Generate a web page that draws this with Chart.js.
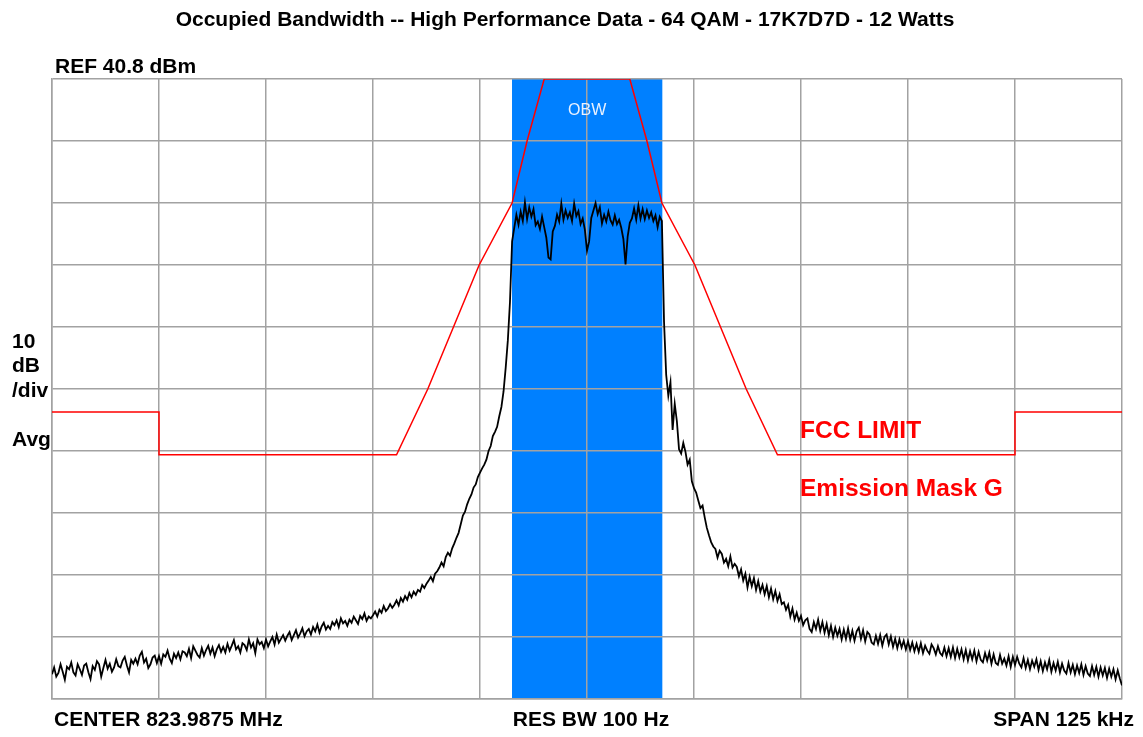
<!DOCTYPE html>
<html>
<head>
<meta charset="utf-8">
<title>Occupied Bandwidth</title>
<script src="https://cdn.jsdelivr.net/npm/chart.js@4.4.0/dist/chart.umd.min.js"></script>
<style>
    html, body { margin: 0; padding: 0; background: #fff; }
    #wrap { position: relative; width: 1143px; height: 737px; }
</style>
</head>
<body>
<div id="wrap"><canvas id="obwChart" width="1143" height="737"></canvas></div>
<script>
// --- chart data ---
const titleText = 'Occupied Bandwidth -- High Performance Data - 64 QAM - 17K7D7D - 12 Watts';

// trace: offset from center in kHz, one sample every 0.25 kHz starting at -62.5
const freqStartKHz = -62.5;
const freqStepKHz = 0.25;
const traceDbm = [
    -55.2, -54.1, -55.6, -55.0, -53.6, -54.8, -56.1, -54.0, -54.4, -53.3,
    -54.9, -55.4, -53.6, -54.4, -55.3, -53.8, -53.5, -54.9, -56.0, -53.9,
    -54.5, -53.1, -53.6, -55.6, -54.2, -52.9, -54.3, -53.5, -54.8, -54.1,
    -52.8, -53.9, -54.1, -53.0, -52.4, -53.8, -54.9, -52.9, -53.5, -52.7,
    -53.6, -52.2, -51.6, -53.3, -52.7, -54.2, -53.6, -52.5, -52.2, -53.4,
    -52.3, -53.5, -52.0, -52.4, -51.4, -52.7, -53.4, -51.9, -52.6, -51.7,
    -52.8, -51.5, -51.7, -52.3, -51.1, -52.6, -50.7, -51.4, -52.1, -52.5,
    -51.0, -52.2, -51.3, -50.6, -51.9, -50.9, -52.3, -51.2, -50.5, -51.6,
    -50.8, -51.7, -50.3, -51.4, -50.6, -49.7, -51.2, -50.7, -51.7, -50.2,
    -50.5, -51.3, -49.6, -50.9, -50.2, -51.8, -49.6, -50.4, -50.0, -51.0,
    -49.6, -50.7, -49.9, -49.2, -50.4, -48.8, -50.1, -49.5, -48.9, -49.8,
    -49.0, -48.4, -49.7, -48.9, -48.1, -49.3, -48.6, -47.8, -49.1, -48.3,
    -47.9, -48.8, -47.6, -48.3, -47.2, -48.5, -47.5, -46.9, -48.0, -47.4,
    -47.9, -46.8, -47.3, -46.5, -47.6, -46.2, -47.0, -46.6, -47.4, -46.4,
    -46.9, -45.9, -46.5, -47.1, -45.8, -46.3, -45.4, -46.6, -45.9, -46.2,
    -45.7, -45.1, -45.9, -44.8, -45.3, -44.2, -45.0, -44.6, -43.9, -44.5,
    -44.0, -43.3, -44.1, -42.9, -43.5, -42.6, -43.2, -42.1, -42.8, -41.9,
    -42.4, -41.6, -41.9, -40.8, -41.3, -40.6, -40.1, -39.5, -40.2, -39.0,
    -38.6, -38.0, -37.2, -37.8, -36.3, -35.6, -36.1, -34.9, -34.1, -33.2,
    -32.4, -31.0, -29.6, -29.0, -27.8, -26.9, -26.2, -25.1, -24.6, -23.4,
    -22.7, -22.0, -21.4, -20.6, -19.2, -18.4, -16.8, -16.1, -15.3, -13.6,
    -12.1, -9.6, -5.8, -1.4, 4.8, 14.6, 16.8, 18.9, 17.3, 19.4,
    17.9, 20.9, 18.2, 20.1, 18.6, 19.8, 17.2, 17.8, 16.6, 18.6,
    16.9, 15.2, 12.0, 11.7, 16.2, 17.1, 18.9, 17.8, 20.7, 18.1,
    19.6, 18.4, 19.3, 17.9, 20.7, 18.7, 19.5, 17.4, 18.3, 16.5,
    13.1, 14.6, 18.4, 19.6, 20.8, 19.0, 20.1, 17.5, 18.9, 17.8,
    19.4, 18.0, 17.3, 18.8, 17.4, 18.1, 16.8, 15.0, 10.9, 15.4,
    17.6, 18.3, 19.9, 18.1, 20.4, 18.3, 19.8, 18.2, 19.6, 18.4,
    19.3, 17.9, 18.8, 16.9, 18.6, 17.9, 1.6, -6.9, -10.3, -8.1,
    -15.8, -11.6, -14.4, -18.9, -19.6, -17.9, -19.3, -21.4, -20.6, -24.1,
    -25.2, -25.9, -27.2, -28.4, -28.0, -29.9, -31.6, -32.8, -33.9, -34.6,
    -35.0, -36.4, -35.3, -35.8, -37.2, -36.6, -37.8, -36.2, -38.0, -37.4,
    -37.9, -39.4, -38.3, -40.1, -39.0, -41.2, -39.5, -41.0, -39.7, -41.6,
    -40.2, -41.9, -40.8, -42.3, -41.0, -42.8, -41.4, -43.1, -41.8, -43.4,
    -42.3, -43.9, -43.6, -44.8, -44.0, -45.9, -44.6, -46.4, -45.3, -46.6,
    -45.8, -47.3, -46.5, -46.2, -47.9, -48.4, -46.8, -47.9, -46.4, -48.2,
    -46.8, -48.5, -47.1, -48.9, -47.4, -49.2, -47.7, -49.0, -47.9, -49.6,
    -48.0, -49.5, -47.8, -49.6, -48.2, -49.8, -48.3, -47.7, -49.5, -48.1,
    -49.9, -48.4, -48.8, -50.1, -50.4, -49.0, -50.3, -48.9, -50.6, -49.2,
    -48.8, -50.4, -49.1, -50.8, -49.5, -51.0, -49.6, -50.9, -49.8, -51.2,
    -49.9, -51.3, -50.1, -51.5, -50.3, -51.6, -50.2, -51.8, -50.6, -51.4,
    -51.9, -50.4, -51.0, -52.0, -50.7, -51.8, -52.2, -50.9, -52.3, -51.0,
    -52.4, -50.9, -52.6, -51.1, -52.5, -51.2, -52.8, -51.3, -53.0, -51.5,
    -52.8, -51.4, -53.1, -51.6, -52.9, -53.3, -51.8, -53.0, -51.7, -53.5,
    -52.0, -53.4, -53.7, -52.1, -53.5, -52.7, -53.8, -52.3, -54.0, -52.4,
    -53.7, -52.4, -53.5, -54.1, -52.6, -54.2, -52.9, -54.4, -53.0, -54.0,
    -52.8, -54.5, -53.1, -54.7, -53.3, -54.4, -52.9, -54.8, -53.4, -54.6,
    -53.2, -54.9, -53.5, -54.6, -55.1, -53.4, -54.9, -53.7, -55.2, -53.8,
    -55.0, -53.6, -55.3, -53.9, -55.1, -55.5, -53.9, -55.3, -54.0, -55.6,
    -54.1, -55.4, -54.2, -55.8, -54.3, -55.6, -54.4, -56.0, -54.6, -55.9,
    -57.0
];

// FCC emission mask G corners (kHz offset, dBm)
const maskFreq = [-62.5, -50, -50, -22.25, -18.6, -12.6, -8.75, -7.0, -5.0, 5.0, 7.0, 8.75, 12.6, 18.6, 22.25, 50, 50, 62.5];
const maskDbm = [-12.9, -12.9, -19.8, -19.8, -9.2, 10.8, 20.8, 30.8, 40.8, 40.8, 30.8, 20.8, 10.8, -9.2, -19.8, -19.8, -12.9, -12.9];

// occupied bandwidth edges (kHz)
const obwEdges = [-8.76, 8.8];

// graticule: 10 divisions each way
const freqTicks = [-62.5, -50, -37.5, -25, -12.5, 0, 12.5, 25, 37.5, 50, 62.5];
const levelTicks = [-59.2, -49.2, -39.2, -29.2, -19.2, -9.2, 0.8, 10.8, 20.8, 30.8, 40.8];

const gridColor = '#a2a2a2';
const labelFont = 'bold 21px "Liberation Sans", Arial, sans-serif';

const screenPlugin = {
    id: 'analyzerScreen',
    beforeDraw(chart) {
        const { ctx, chartArea, scales: { x } } = chart;
        ctx.save();
        ctx.fillStyle = '#ffffff';
        ctx.fillRect(0, 0, chart.width, chart.height);
        const left = x.getPixelForValue(obwEdges[0]);
        const right = x.getPixelForValue(obwEdges[1]);
        ctx.fillStyle = '#0080ff';
        ctx.fillRect(left, chartArea.top, right - left, chartArea.bottom - chartArea.top);
        ctx.restore();
    },
    afterDraw(chart) {
        const { ctx, chartArea, scales: { x } } = chart;
        ctx.save();
        ctx.fillStyle = '#000';
        ctx.textBaseline = 'alphabetic';

        ctx.font = 'bold 21px "Liberation Sans", Arial, sans-serif';
        ctx.textAlign = 'center';
        ctx.fillText(titleText, 565, 26);

        ctx.font = labelFont;
        ctx.textAlign = 'left';
        ctx.fillText('REF 40.8 dBm', 55, 73);
        ctx.fillText('10', 12, 348);
        ctx.fillText('dB', 12, 372);
        ctx.fillText('/div', 12, 397);
        ctx.fillText('Avg', 12, 446);
        ctx.fillText('CENTER 823.9875 MHz', 54, 726);
        ctx.textAlign = 'center';
        ctx.fillText('RES BW 100 Hz', 591, 726);
        ctx.textAlign = 'right';
        ctx.fillText('SPAN 125 kHz', 1134, 726);

        // OBW marker text inside the band
        const mid = (x.getPixelForValue(obwEdges[0]) + x.getPixelForValue(obwEdges[1])) / 2;
        ctx.font = '16px "Liberation Sans", Arial, sans-serif';
        ctx.fillStyle = '#e9f1ff';
        ctx.textAlign = 'center';
        ctx.fillText('OBW', mid, chartArea.top + 36);

        ctx.font = 'bold 24.5px "Liberation Sans", Arial, sans-serif';
        ctx.fillStyle = '#ff0000';
        ctx.textAlign = 'left';
        ctx.fillText('FCC LIMIT', 800, 438);
        ctx.fillText('Emission Mask G', 800, 496);
        ctx.restore();
    }
};

const tracePoints = traceDbm.map((v, i) => ({ x: freqStartKHz + i * freqStepKHz, y: v }));
const maskPoints = maskFreq.map((f, i) => ({ x: f, y: maskDbm[i] }));

new Chart(document.getElementById('obwChart').getContext('2d'), {
    type: 'line',
    data: {
        datasets: [
            {
                label: 'Trace',
                data: tracePoints,
                borderColor: '#000000',
                borderWidth: 1.8,
                pointRadius: 0,
                tension: 0
            },
            {
                label: 'FCC Limit',
                data: maskPoints,
                borderColor: '#ff0000',
                borderWidth: 1.5,
                pointRadius: 0,
                tension: 0
            }
        ]
    },
    options: {
        responsive: false,
        animation: false,
        devicePixelRatio: 1,
        layout: { padding: { left: 52, right: 21, top: 79, bottom: 38 } },
        plugins: {
            legend: { display: false },
            tooltip: { enabled: false },
            title: { display: false }
        },
        scales: {
            x: {
                type: 'linear',
                min: -62.5,
                max: 62.5,
                afterBuildTicks: (scale) => { scale.ticks = freqTicks.map(v => ({ value: v })); },
                ticks: { display: false },
                grid: { color: gridColor, lineWidth: 1.5, drawTicks: false },
                border: { color: gridColor, width: 1.5 }
            },
            y: {
                type: 'linear',
                min: -59.2,
                max: 40.8,
                afterBuildTicks: (scale) => { scale.ticks = levelTicks.map(v => ({ value: v })); },
                ticks: { display: false },
                grid: { color: gridColor, lineWidth: 1.5, drawTicks: false },
                border: { color: gridColor, width: 1.5 }
            }
        }
    },
    plugins: [screenPlugin]
});
</script>
</body>
</html>
